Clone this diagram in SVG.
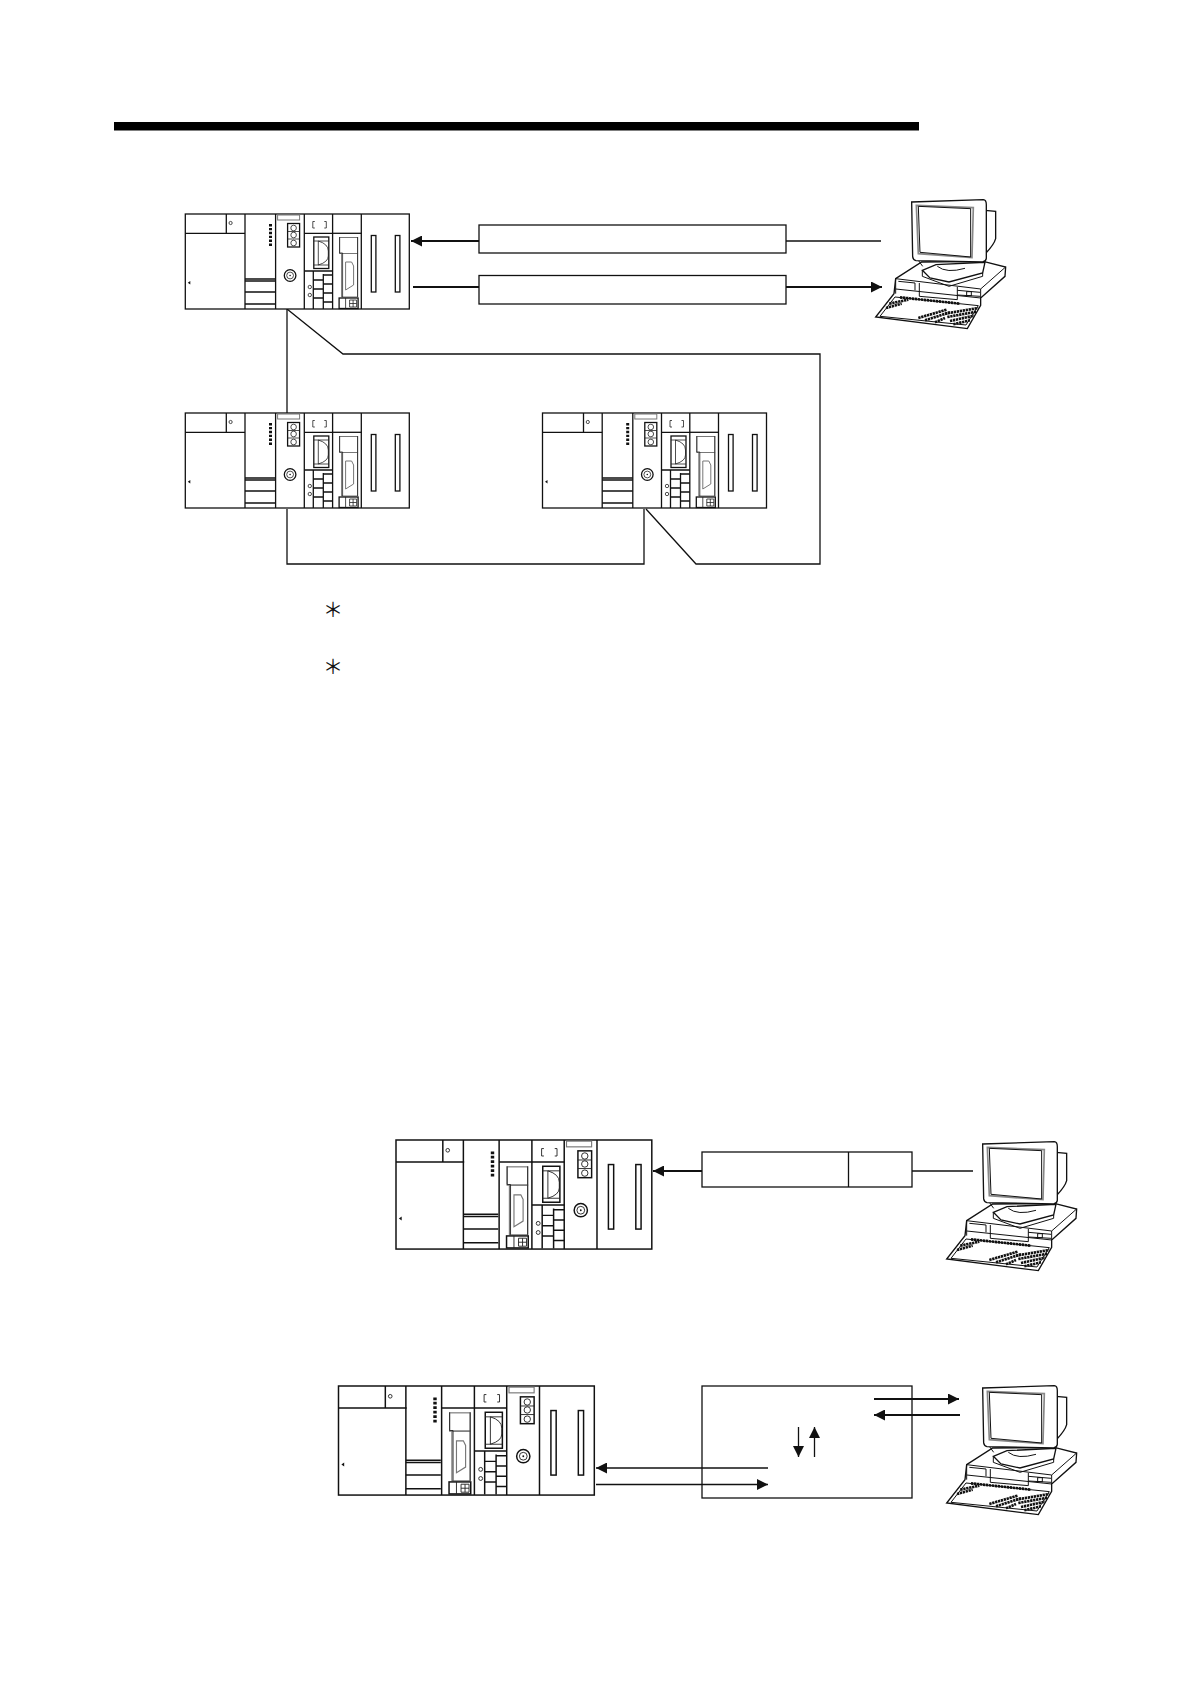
<svg xmlns="http://www.w3.org/2000/svg" xmlns:xlink="http://www.w3.org/1999/xlink" width="1190" height="1684" viewBox="0 0 1190 1684">
<style>
.l{fill:none;stroke:#111;stroke-width:1.3}
.b{fill:#fff;stroke:#111;stroke-width:1.3}
.t{fill:none;stroke:#222;stroke-width:.8}
.g{fill:none;stroke:#777;stroke-width:1}
.c{fill:none;stroke:#111;stroke-width:3}
.h{fill:none;stroke:#111;stroke-width:2}
.k{fill:#fff;stroke:#111;stroke-width:4}
.m{fill:none;stroke:#111;stroke-width:8;stroke-dasharray:7 2}
.n{fill:none;stroke:#888;stroke-width:5}
.f{fill:#111}
.star{font-family:"Noto Sans CJK JP","Liberation Sans",sans-serif;font-size:20px;fill:#111;text-anchor:middle}
</style>
<defs>
<marker id="ah" markerUnits="userSpaceOnUse" markerWidth="11" markerHeight="11" refX="11" refY="5.500" orient="auto"><path d="M0 0L11 5.500L0 11Z" fill="#111"/></marker>
<g id="cpu"><path class="l" d="M0 19.300H59.700M41 0V19.300"/><circle class="t" cx="45.300" cy="9" r="1.600"/><path class="f" d="M2.500 68.700L5 67V70.400Z"/></g>
<g id="led"><path class="l" d="M0 65H30.600M0 67H30.600M0 78H30.600M0 90H30.600"/><path d="M25.500 10V33" fill="none" stroke="#111" stroke-width="3" stroke-dasharray="2.400 1.500"/></g>
<g id="comm"><rect class="g" x="2" y="1" width="22" height="5"/><rect class="l" x="12" y="9.500" width="12" height="23.500"/><path class="t" d="M12 17.500H24M12 25H24"/><circle class="t" cx="18" cy="14" r="2.800"/><circle class="t" cx="18" cy="21" r="2.800"/><circle class="t" cx="18" cy="29" r="2.800"/><circle class="l" cx="14.500" cy="61.500" r="5.800"/><circle class="t" cx="14.500" cy="61.500" r="3.400"/><circle class="f" cx="14.500" cy="61.500" r=".8"/></g>
<g id="conn"><path class="l" d="M0 19.300H28.300M0 57H28.300"/><path class="t" d="M10.500 7.500H8.500V14H10.500M20 7.500H22V14H20"/><rect class="l" x="9.500" y="23" width="15" height="31.500"/><path class="t" d="M9.500 27H24.500M9.500 51H24.500M14 27L14 51M14 27Q24 30 24 37V42Q24 48 14 51"/><path class="l" d="M9 66H19M19 61H28.300M9 75H19M19 70H28.300M9 84H19M19 79H28.300M19 88H28.300M9 57V95M19 60V95"/><circle class="t" cx="5.500" cy="73" r="1.700"/><circle class="t" cx="5.500" cy="81" r="1.700"/></g>
<g id="usb"><path class="l" d="M0 19.300H29"/><rect class="g" x="7" y="23.500" width="18" height="16"/><path class="g" d="M9 39.500H25V83H9Z"/><path class="t" d="M7 23V39H10V83M25 23V83"/><path class="g" d="M13 48H19L21 52V71L13 76Z"/><rect class="l" x="6.500" y="84" width="19" height="10.500"/><path class="t" d="M13 84V94.500M17 86H24V93H17ZM20.500 86V93M17 89.500H24"/></g>
<g id="blank"><rect class="l" x="10" y="21.500" width="4.600" height="56.500"/><rect class="l" x="34" y="21.500" width="4.600" height="56.500"/></g>
<g id="rackA"><rect class="b" width="224" height="95" stroke-width="1.500"/><path class="l" d="M59.700 0V95M90.300 0V95M119 0V95M147.300 0V95M176 0V95"/><use xlink:href="#cpu"/><use xlink:href="#led" x="59.700"/><use xlink:href="#comm" x="90.300"/><use xlink:href="#conn" x="119"/><use xlink:href="#usb" x="147.300"/><use xlink:href="#blank" x="176"/></g>
<g id="rackB"><rect class="b" width="224" height="95.500" stroke-width="1.500"/><path class="l" d="M59 0V95.500M90.300 0V95.500M119 0V95.500M147.300 0V95.500M176 0V95.500"/><use xlink:href="#cpu"/><use xlink:href="#led" x="59"/><use xlink:href="#usb" x="90.300"/><use xlink:href="#conn" x="119"/><use xlink:href="#comm" x="147.300"/><use xlink:href="#blank" x="176"/></g>
<g id="pc" transform="scale(.3333)">
<path class="k" d="M137 287L215 237L400 235L467 252L465 280L392 345V367L352 437L77 402L132 332Z"/>
<path class="c" d="M137 287L392 318V345M137 318L392 345M137 287V332M467 252L392 318M400 235L392 260"/>
<path class="c" d="M208 300V340L322 350V312M145 295L195 300V322M322 322L390 328M322 336L390 340"/>
<rect x="350" y="326" width="14" height="12" class="c"/>
<path class="c" d="M90 400L135 342L385 368L348 426Z"/>
<path class="m" d="M150 343L330 362"/>
<path class="m" d="M118 362L175 350"/>
<path class="m" d="M108 375L155 362"/>
<path class="m" d="M205 405L290 380M225 412L300 388M255 418L285 405"/>
<path class="m" d="M285 392L385 375M292 402L380 386M300 414L372 398M310 424L360 412"/>
<path class="k" d="M217 262L258 245L405 238L398 270L297 297L240 285Z"/>
<path class="c" d="M205 232L218 250M262 250Q290 272 345 256M217 262L217 280L297 310L398 280V270"/>
<path class="k" d="M405 82L437 85V167Q432 185 408 210Z"/>
<path class="k" d="M185 57L400 50Q409 51 409 65V226Q408 235 398 237L198 233Q190 232 188 222Z"/>
<path class="n" d="M199 67L370 74L366 224L205 212Z"/>
<path class="c" d="M205 70L362 77V222L210 208Z"/>
</g>
</defs>
<rect width="1190" height="1684" fill="#fff"/>
<rect id="header-bar" x="114" y="122" width="805" height="8.500" fill="#000"/>
<g id="connectors">
<path class="h" marker-end="url(#ah)" d="M479 241H411"/>
<path class="l" d="M786 241H881"/>
<path class="h" d="M413 287H479"/>
<path class="h" marker-end="url(#ah)" d="M786 287H882"/>
<path class="l" d="M287 309V413"/>
<path class="l" d="M287 309L343 354H820V564H696L646 509"/>
<path class="l" d="M287 509V564H644V509"/>
<path class="h" marker-end="url(#ah)" d="M702 1171H653"/>
<path class="l" d="M912 1171H973"/>
<path class="h" marker-end="url(#ah)" d="M874 1399H959"/>
<path class="h" marker-end="url(#ah)" d="M960 1415H874"/>
<path class="l" marker-end="url(#ah)" d="M798.500 1427V1457"/>
<path class="l" marker-end="url(#ah)" d="M814.500 1457V1427"/>
<path class="l" marker-end="url(#ah)" d="M768 1468H596"/>
<path class="l" marker-end="url(#ah)" d="M596 1484.500H768"/>
</g>
<g id="rack-1"><use xlink:href="#rackA" x="185.300" y="214"/></g>
<g id="rack-2"><use xlink:href="#rackA" x="185.300" y="413"/></g>
<g id="rack-3"><use xlink:href="#rackA" x="542.500" y="413"/></g>
<g id="rack-4"><use xlink:href="#rackB" transform="translate(396 1140) scale(1.142)"/></g>
<g id="rack-5"><use xlink:href="#rackB" transform="translate(338.500 1386) scale(1.142)"/></g>
<g id="box-1"><rect class="b" x="479" y="225" width="307" height="28"/></g>
<g id="box-2"><rect class="b" x="479" y="275.500" width="307" height="28.500"/></g>
<g id="box-3"><rect class="b" x="702" y="1152" width="210" height="35"/><path class="l" d="M848.500 1152V1187"/></g>
<g id="box-4"><rect class="l" x="702" y="1386" width="210" height="112"/></g>
<g id="pc-1"><use xlink:href="#pc" transform="translate(850 183)"/></g>
<g id="pc-2"><use xlink:href="#pc" transform="translate(921 1125)"/></g>
<g id="pc-3"><use xlink:href="#pc" transform="translate(921 1369)"/></g>
<text class="star" x="333" y="617">＊</text>
<text class="star" x="333" y="674">＊</text>
</svg>
